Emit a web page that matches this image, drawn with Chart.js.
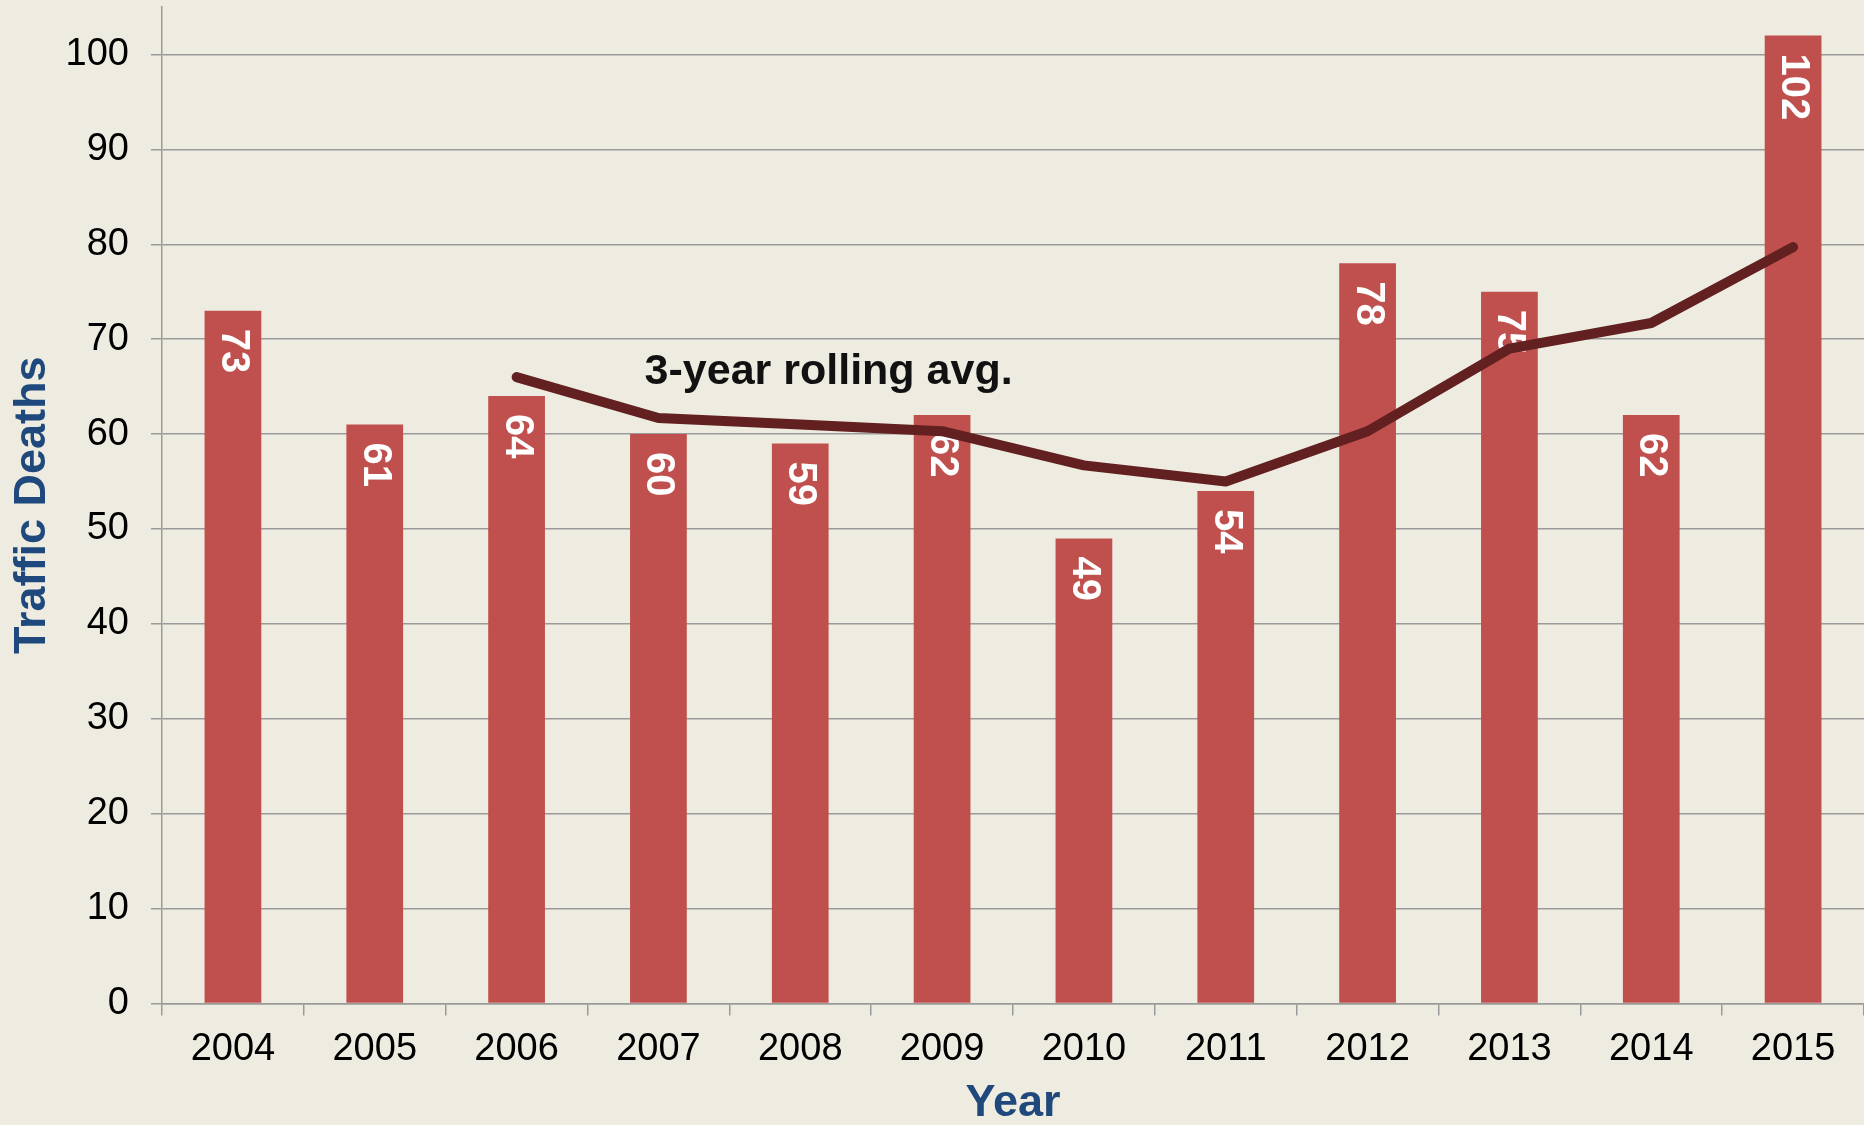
<!DOCTYPE html>
<html>
<head>
<meta charset="utf-8">
<script src="https://cdn.jsdelivr.net/npm/chart.js@4/dist/chart.umd.min.js"></script>
<style>
  html, body { margin: 0; padding: 0; background: #EEECE1; }
  canvas { display: block; }
</style>
</head>
<body>
<canvas id="deathsChart" width="1864" height="1125"></canvas>
<script>
// Values
var years = ['2004', '2005', '2006', '2007', '2008', '2009', '2010', '2011', '2012', '2013', '2014', '2015'];
var deaths = [73, 61, 64, 60, 59, 62, 49, 54, 78, 75, 62, 102];
var rollingAvg = [null, null, 66, 61.7, 61, 60.3, 56.7, 55, 60.3, 69, 71.7, 79.7];
var yTicks = [0, 10, 20, 30, 40, 50, 60, 70, 80, 90, 100];

var tickFont = { family: '"Liberation Sans", Arial, sans-serif', size: 38 };
var titleFont = { family: '"Liberation Sans", Arial, sans-serif', size: 45, weight: 'bold', lineHeight: 1 };
var gridColor = '#9A9A9A';

// white rotated numbers just inside the top of each bar
var barLabels = {
    id: 'barLabels',
    afterDatasetDraw: function (chart, args) {
        if (args.index !== 0) return;
        var ctx = chart.ctx;
        ctx.save();
        ctx.font = 'bold 40px "Liberation Sans", Arial, sans-serif';
        ctx.fillStyle = '#FFFFFF';
        ctx.textAlign = 'left';
        ctx.textBaseline = 'middle';
        args.meta.data.forEach(function (bar, i) {
            ctx.save();
            ctx.translate(bar.x, bar.y + 18);
            ctx.rotate(Math.PI / 2);
            ctx.fillText(String(deaths[i]), 0, 0);
            ctx.restore();
        });
        ctx.restore();
    }
};

// "3-year rolling avg." note placed in data space
var avgNote = {
    id: 'avgNote',
    afterDatasetsDraw: function (chart) {
        var ctx = chart.ctx;
        var x = chart.scales.x.getPixelForValue(4.2);
        var y = chart.scales.y.getPixelForValue(66.5);
        ctx.save();
        ctx.font = 'bold 43px "Liberation Sans", Arial, sans-serif';
        ctx.fillStyle = '#111111';
        ctx.textAlign = 'center';
        ctx.textBaseline = 'middle';
        ctx.fillText('3-year rolling avg.', x, y);
        ctx.restore();
    }
};

var deathsChart = new Chart(document.getElementById('deathsChart'), {
    type: 'bar',
    data: {
        labels: years,
        datasets: [{
            type: 'bar',
            label: 'Traffic Deaths',
            data: deaths,
            backgroundColor: '#C0504D',
            barPercentage: 0.4,
            categoryPercentage: 1.0,
            order: 1
        }, {
            type: 'line',
            label: '3-year rolling avg.',
            data: rollingAvg,
            borderColor: '#632020',
            borderWidth: 10,
            borderCapStyle: 'round',
            borderJoinStyle: 'round',
            pointRadius: 0,
            tension: 0,
            fill: false,
            order: 0
        }]
    },
    options: {
        responsive: false,
        animation: false,
        devicePixelRatio: 1,
        layout: { padding: { top: 7, right: 0, bottom: 0, left: 0 } },
        plugins: {
            legend: { display: false },
            tooltip: { enabled: false }
        },
        scales: {
            x: {
                afterFit: function (axis) {
                    axis.height = 121.5;
                    axis.paddingLeft = 0;
                    axis.paddingRight = 0;
                },
                grid: {
                    offset: true,
                    drawOnChartArea: false,
                    drawTicks: true,
                    tickLength: 12,
                    color: gridColor,
                    lineWidth: 1.5
                },
                border: { color: gridColor, width: 1.5 },
                ticks: { color: '#000000', font: tickFont, padding: 11, maxRotation: 0 },
                title: {
                    display: true,
                    text: 'Year',
                    color: '#1F497D',
                    font: titleFont,
                    padding: { top: 0, bottom: -1 }
                }
            },
            y: {
                min: 0,
                max: 105,
                afterFit: function (axis) {
                    axis.width = 162;
                    axis.paddingTop = 0;
                    axis.paddingBottom = 0;
                },
                afterBuildTicks: function (axis) {
                    axis.ticks = yTicks.map(function (v) { return { value: v }; });
                },
                grid: {
                    drawTicks: true,
                    tickLength: 11,
                    color: gridColor,
                    lineWidth: 1.5
                },
                border: { color: gridColor, width: 1.5 },
                ticks: { color: '#000000', font: tickFont, padding: 22 },
                title: {
                    display: true,
                    text: 'Traffic Deaths',
                    color: '#1F497D',
                    font: titleFont,
                    padding: { top: 10, bottom: 0 }
                }
            }
        }
    },
    plugins: [barLabels, avgNote]
});
</script>
</body>
</html>
